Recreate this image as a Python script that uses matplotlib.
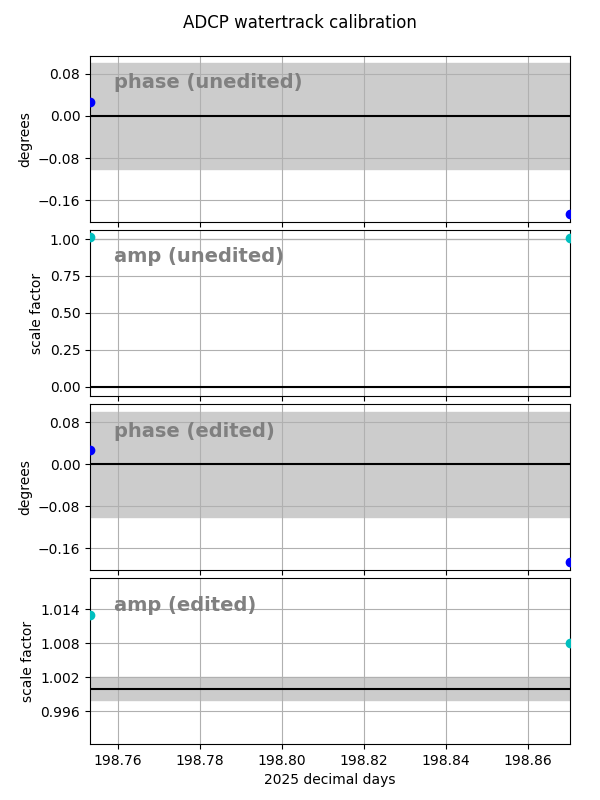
import matplotlib
matplotlib.use("Agg")
import matplotlib.pyplot as plt

# decimal days of the two calibration points
days = [198.7532, 198.8702]

phase_unedited = [0.0267, -0.1867]
amp_unedited = [1.013, 1.008]
phase_edited = [0.0267, -0.1867]
amp_edited = [1.013, 1.008]

phase_ticks = [-0.16, -0.08, 0.00, 0.08]
amp_unedited_ticks = [0.00, 0.25, 0.50, 0.75, 1.00]
amp_edited_ticks = [0.996, 1.002, 1.008, 1.014]

fig, axes = plt.subplots(4, 1, figsize=(6, 8), dpi=100, sharex=True)
fig.subplots_adjust(left=0.15, right=0.95, top=0.93, bottom=0.07, hspace=0.05)
fig.suptitle("ADCP watertrack calibration", fontsize=12, y=0.982)

panels = [
    (phase_unedited, "b", "degrees", "phase (unedited)", (-0.1, 0.1), 0.0, phase_ticks, ["\u22120.16", "\u22120.08", "0.00", "0.08"]),
    (amp_unedited, "c", "scale factor", "amp (unedited)", (0.998, 1.002), 0.0, amp_unedited_ticks, ["0.00", "0.25", "0.50", "0.75", "1.00"]),
    (phase_edited, "b", "degrees", "phase (edited)", (-0.1, 0.1), 0.0, phase_ticks, ["\u22120.16", "\u22120.08", "0.00", "0.08"]),
    (amp_edited, "c", "scale factor", "amp (edited)", (0.998, 1.002), 1.0, amp_edited_ticks, ["0.996", "1.002", "1.008", "1.014"]),
]

ylims = [(-0.201, 0.114), (-0.0604, 1.0604), (-0.201, 0.114), (0.9902, 1.0195)]

for ax, (vals, col, ylab, name, band, ref, ticks, labels), yl in zip(axes, panels, ylims):
    ax.axhspan(band[0], band[1], color="0.8", zorder=0)
    ax.axhline(ref, color="k", lw=1.5)
    ax.plot(days, vals, "o", color=col, ms=6, zorder=3)
    ax.grid(True)
    ax.set_ylabel(ylab)
    ax.set_yticks(ticks)
    ax.set_yticklabels(labels)
    ax.set_ylim(yl)
    ax.text(0.05, 0.895, name, transform=ax.transAxes, fontsize=14,
            fontweight="bold", color="gray", va="top")

axes[-1].set_xlim(days[0], days[1])
axes[-1].set_xticks([198.76, 198.78, 198.80, 198.82, 198.84, 198.86])
axes[-1].set_xticklabels(["198.76", "198.78", "198.80", "198.82", "198.84", "198.86"])
axes[-1].set_xlabel("2025 decimal days")

plt.savefig("out.png")
